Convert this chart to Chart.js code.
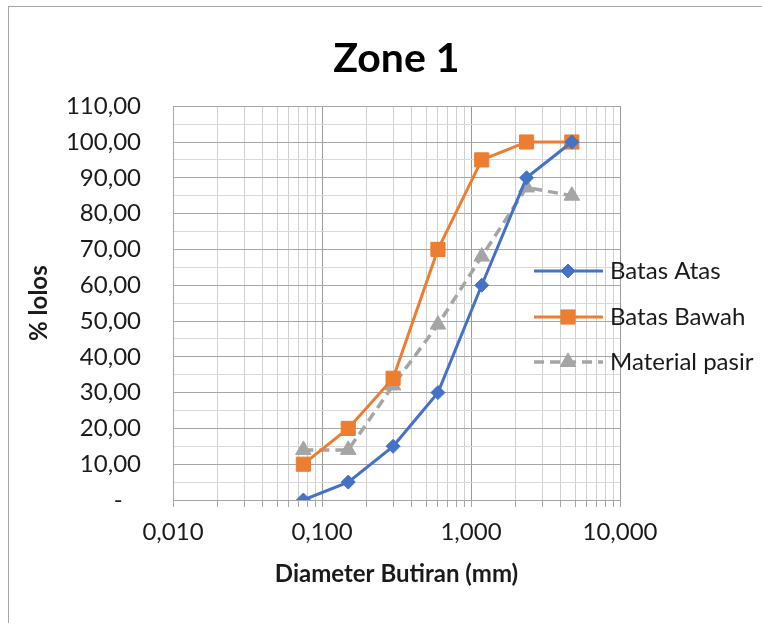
<!DOCTYPE html>
<html>
<head>
<meta charset="utf-8">
<script src="https://cdn.jsdelivr.net/npm/chart.js@4/dist/chart.umd.min.js"></script>
<style>
  html, body { margin: 0; padding: 0; background: #fff; }
  #wrap { width: 762px; height: 623px; }
</style>
</head>
<body>
<div id="wrap"><canvas id="chart" width="762" height="623"></canvas></div>
<script>
// data
const diameter = [0.075, 0.15, 0.3, 0.6, 1.18, 2.36, 4.75];
const batasAtas = [0, 5, 15, 30, 60, 90, 100];
const batasBawah = [10, 20, 34, 70, 95, 100, 100];
const materialPasir = [14, 14, 32, 49, 68, 87.3, 85];

const seriesNames = ['Batas Atas', 'Batas Bawah', 'Material pasir'];
const seriesColors = ['#4472C4', '#ED7D31', '#A5A5A5'];

// log axis: minor ticks 1..9 per decade, labels only at decades
const xDecades = [0.01, 0.1, 1];
const xMultipliers = [1, 2, 3, 4, 5, 6, 7, 8, 9];
const xMajorValues = [0.01, 0.1, 1, 10];
const xMajorLabels = ['0,010', '0,100', '1,000', '10,000'];

const yMin = 0;
const yMax = 110;
const yStep = 5;

const FONT = "Lato, 'Open Sans', sans-serif";
const TEXT = '#1a1a1a';

const xTickValues = [];
xDecades.forEach(d => xMultipliers.forEach(m => xTickValues.push(+(d * m).toPrecision(3))));
xTickValues.push(10);

const isDecade = v => Math.abs(Math.log10(v) - Math.round(Math.log10(v))) < 1e-9;

function toPoints(ys) {
    return diameter.map((x, i) => ({ x: x, y: ys[i] }));
}

const datasets = [
    {
        label: seriesNames[0],
        data: toPoints(batasAtas),
        borderColor: seriesColors[0],
        backgroundColor: seriesColors[0],
        borderWidth: 3,
        pointStyle: 'rectRot',
        pointRadius: 7,
        pointBorderWidth: 1
    },
    {
        label: seriesNames[1],
        data: toPoints(batasBawah),
        borderColor: seriesColors[1],
        backgroundColor: seriesColors[1],
        borderWidth: 3,
        pointStyle: 'rect',
        pointRadius: 10,
        pointBorderWidth: 1
    },
    {
        label: seriesNames[2],
        data: toPoints(materialPasir),
        borderColor: seriesColors[2],
        backgroundColor: seriesColors[2],
        borderWidth: 3.5,
        borderDash: [10, 6],
        pointStyle: 'triangle',
        pointRadius: 9,
        pointBorderWidth: 1
    }
];

// outer frame of the chart object
const framePlugin = {
    id: 'frame',
    beforeDraw(chart) {
        const ctx = chart.ctx;
        ctx.save();
        ctx.fillStyle = '#fff';
        ctx.fillRect(0, 0, chart.width, chart.height);
        ctx.strokeStyle = '#a6a6a6';
        ctx.lineWidth = 1;
        ctx.strokeRect(8.5, 6.5, chart.width + 20, chart.height + 20);
        ctx.restore();
    }
};

// legend sits over the right edge of the plot, like the excel one
const legendPlugin = {
    id: 'sideLegend',
    afterDatasetsDraw(chart) {
        const ctx = chart.ctx;
        const rows = [271, 317, 362];
        const x0 = 534, x1 = 603, xm = 568, xt = 610;
        ctx.save();
        chart.data.datasets.forEach((ds, i) => {
            const y = rows[i];
            ctx.strokeStyle = ds.borderColor;
            ctx.lineWidth = ds.borderWidth;
            ctx.setLineDash(ds.borderDash || []);
            ctx.beginPath();
            ctx.moveTo(x0, y);
            ctx.lineTo(x1, y);
            ctx.stroke();
            ctx.setLineDash([]);
            ctx.fillStyle = ds.backgroundColor;
            ctx.lineWidth = ds.pointBorderWidth;
            Chart.helpers.drawPoint(ctx, { pointStyle: ds.pointStyle, radius: ds.pointRadius, rotation: 0, borderWidth: 1 }, xm, y);
            ctx.fillStyle = TEXT;
            ctx.font = '24px ' + FONT;
            ctx.textAlign = 'left';
            ctx.textBaseline = 'middle';
            ctx.fillText(ds.label, xt, y);
        });
        ctx.restore();
    }
};

new Chart(document.getElementById('chart'), {
    type: 'line',
    data: { datasets: datasets },
    options: {
        responsive: false,
        animation: false,
        layout: { padding: { left: 0, right: 142, top: 0, bottom: 0 } },
        plugins: {
            legend: { display: false },
            tooltip: { enabled: false },
            title: {
                display: true,
                text: 'Zone 1',
                fullSize: false,
                color: '#000',
                font: { family: FONT, size: 41, weight: 'bold' },
                padding: { top: 34, bottom: 23 }
            }
        },
        scales: {
            x: {
                type: 'logarithmic',
                min: 0.01,
                max: 10,
                afterBuildTicks: scale => {
                    scale.ticks = xTickValues.map(v => ({ value: v }));
                },
                afterFit: scale => { scale.height = 123; },
                ticks: {
                    autoSkip: false,
                    maxRotation: 0,
                    padding: 11,
                    color: TEXT,
                    font: { family: FONT, size: 24 },
                    callback: v => {
                        const k = xMajorValues.findIndex(m => Math.abs(m - v) < 1e-9);
                        return k >= 0 ? xMajorLabels[k] : '';
                    }
                },
                grid: {
                    color: c => (c.tick && isDecade(c.tick.value)) ? '#9a9a9a' : '#d0d0d0',
                    tickColor: '#a6a6a6',
                    tickLength: 7,
                    lineWidth: 1
                },
                border: { color: '#a6a6a6' },
                title: {
                    display: true,
                    text: 'Diameter Butiran (mm)',
                    color: TEXT,
                    font: { family: FONT, size: 24, weight: 'bold' },
                    padding: { top: 0, bottom: 34 }
                }
            },
            y: {
                type: 'linear',
                min: yMin,
                max: yMax,
                afterFit: scale => { scale.width = 173; },
                ticks: {
                    stepSize: yStep,
                    autoSkip: false,
                    maxTicksLimit: 40,
                    padding: 32,
                    color: TEXT,
                    font: { family: FONT, size: 24 },
                    callback: v => {
                        if (v === 0) return '-   ';
                        return v % 10 === 0 ? v.toFixed(2).replace('.', ',') : '';
                    }
                },
                grid: {
                    drawTicks: false,
                    color: c => (c.tick && c.tick.value % 10 === 0) ? '#a6a6a6' : '#d9d9d9',
                    lineWidth: 1
                },
                border: { color: '#a6a6a6' },
                title: {
                    display: true,
                    text: '% lolos',
                    color: TEXT,
                    font: { family: FONT, size: 24, weight: 'bold' },
                    padding: { top: 25, bottom: 0 }
                }
            }
        }
    },
    plugins: [framePlugin, legendPlugin]
});
</script>
</body>
</html>
